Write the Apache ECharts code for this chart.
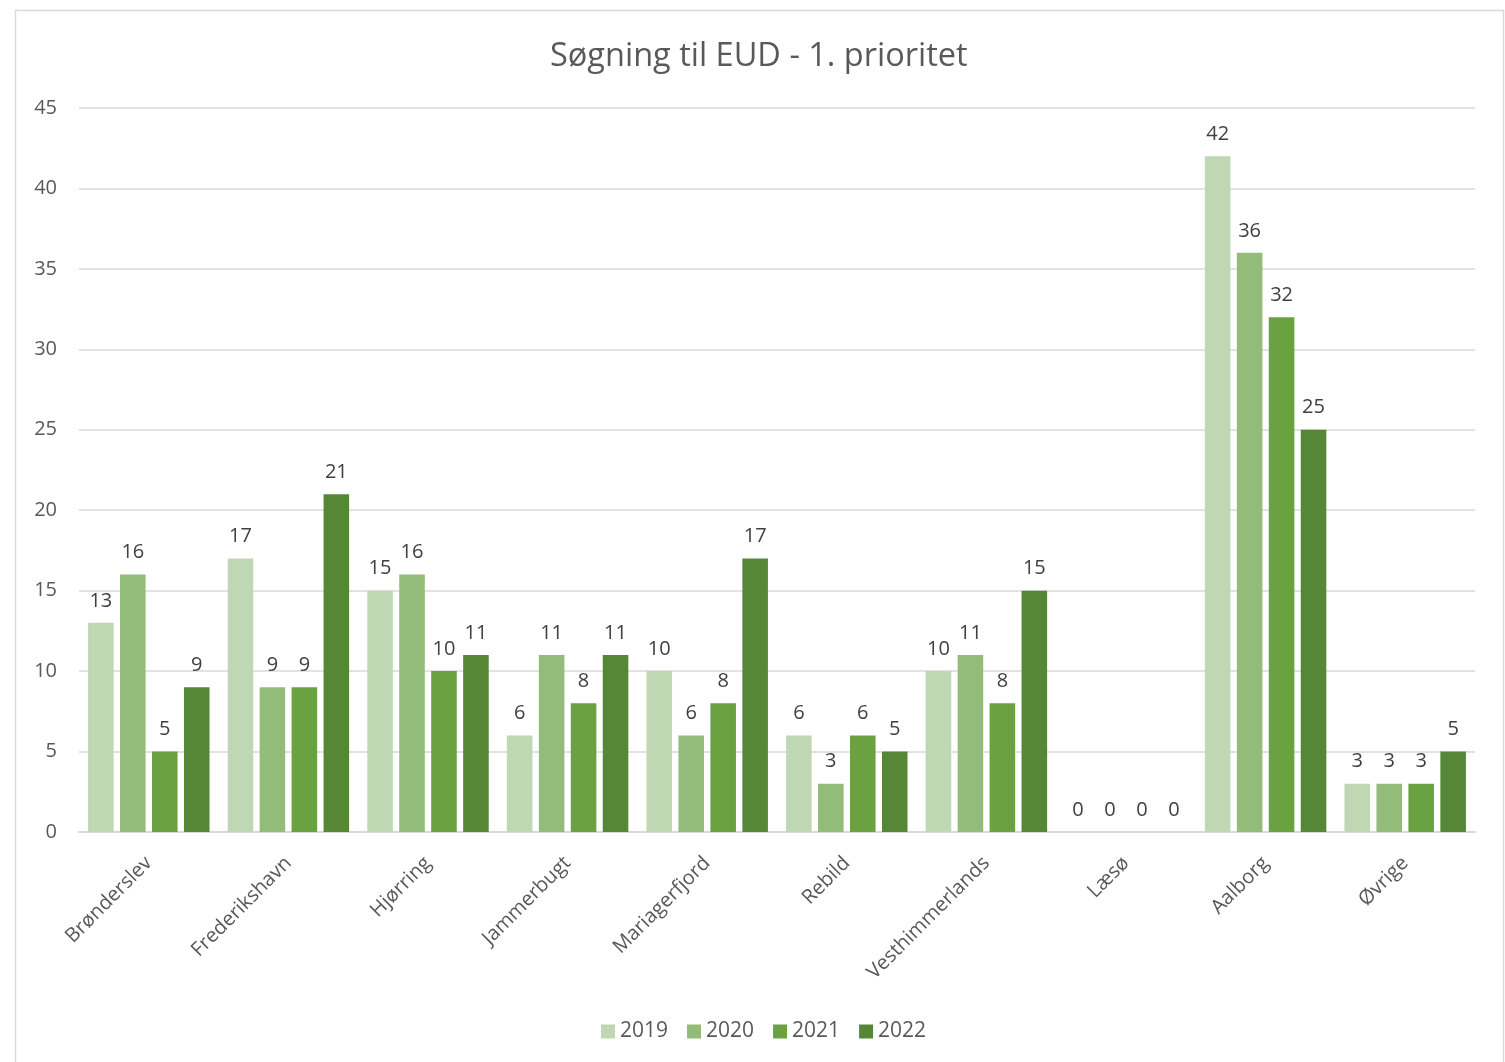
<!DOCTYPE html>
<html><head><meta charset="utf-8">
<script src="https://cdn.jsdelivr.net/npm/echarts@6/dist/echarts.min.js"></script>
<style>html,body{margin:0;padding:0;background:#fff}#c{width:1505px;height:1062px}</style>
</head><body><div id="c"></div>
<script>
const categories = ['Brønderslev','Frederikshavn','Hjørring','Jammerbugt','Mariagerfjord','Rebild','Vesthimmerlands','Læsø','Aalborg','Øvrige'];
const years = ['2019','2020','2021','2022'];
const v2019 = [13,17,15,6,10,6,10,0,42,3];
const v2020 = [16,9,16,11,6,3,11,0,36,3];
const v2021 = [5,9,10,8,8,6,8,0,32,3];
const v2022 = [9,21,11,11,17,5,15,0,25,5];
const yTicks = [0,5,10,15,20,25,30,35,40,45];
const colors = ['#c0d7b4','#93bc7b','#6aa141','#568736'];
const FONT = 'Open Sans';
const seriesData = [v2019, v2020, v2021, v2022];

const chart = echarts.init(document.getElementById('c'), null, {renderer:'canvas'});
chart.setOption({
  animation:false,
  textStyle:{fontFamily:FONT},
  graphic:[{type:'rect',shape:{x:15.5,y:10.5,width:1488,height:1100},style:{fill:'none',stroke:'#d9d9d9',lineWidth:1.5},z:-1}],
  title:{text:'Søgning til EUD - 1. prioritet',left:545,top:35,
    textStyle:{fontFamily:FONT,fontSize:32.5,fontWeight:'normal',color:'#595959'}},
  legend:{bottom:15,left:596,itemWidth:14,itemHeight:14,itemGap:19,icon:'rect',
    textStyle:{fontFamily:FONT,fontSize:21,color:'#595959'},data:years},
  grid:{left:79,right:30,top:108,bottom:230,containLabel:false},
  xAxis:{type:'category',data:categories,
    axisLine:{lineStyle:{color:'#d9d9d9',width:2}},axisTick:{show:false},
    axisLabel:{rotate:45,interval:0,margin:28,fontSize:20,color:'#595959',fontFamily:FONT}},
  yAxis:{type:'value',min:0,max:45,interval:5,
    axisLine:{show:false},axisTick:{show:false},
    splitLine:{lineStyle:{color:'#d9d9d9',width:1.5}},
    axisLabel:{margin:22,fontSize:20,color:'#595959',fontFamily:FONT,
      formatter:v=>yTicks.includes(v)?String(v):''}},
  series: years.map((y,i)=>({
    name:y,type:'bar',data:seriesData[i],
    itemStyle:{color:colors[i]},
    barGap:'25%',barCategoryGap:'13%',
    label:{show:true,position:'top',distance:12,fontSize:20,color:'#404040',fontFamily:FONT}
  }))
});
</script></body></html>
